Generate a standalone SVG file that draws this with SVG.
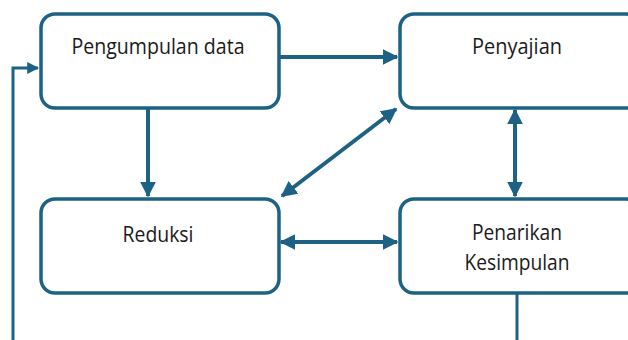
<svg xmlns="http://www.w3.org/2000/svg" width="628" height="340" viewBox="0 0 628 340">
<defs>
<style>
.box{fill:#fff;stroke:#1d6285;stroke-width:3.5}
.lbl{font-family:"Open Sans","Liberation Sans",sans-serif;font-size:22px;fill:#1a1a1a;text-anchor:middle}
.ln{stroke:#1d6285;stroke-width:4;fill:none}
</style>
<marker id="ah" viewBox="0 0 10 10" refX="9" refY="5" markerWidth="4" markerHeight="4" orient="auto-start-reverse" markerUnits="strokeWidth">
<path d="M0,0 L10,5 L0,10 z" fill="#1d6285"/>
</marker>
</defs>
<rect width="628" height="340" fill="#fff"/>
<g id="connectors">
<line class="ln" x1="280" y1="57" x2="397" y2="57" marker-end="url(#ah)"/>
<line class="ln" x1="148" y1="108" x2="148" y2="196" marker-end="url(#ah)"/>
<line class="ln" x1="282" y1="196" x2="396" y2="109" marker-start="url(#ah)" marker-end="url(#ah)"/>
<line class="ln" x1="281" y1="242" x2="397" y2="242" marker-start="url(#ah)" marker-end="url(#ah)"/>
<line class="ln" x1="515" y1="110" x2="515" y2="196" marker-start="url(#ah)" marker-end="url(#ah)"/>
<line class="ln" x1="517" y1="294" x2="517" y2="345" style="stroke-width:3"/>
<polyline class="ln" points="13,345 13,68 38,68" style="stroke-width:3" marker-end="url(#ah)"/>
</g>
<g id="n1"><rect class="box" x="41" y="14" width="238" height="94" rx="14"/><text class="lbl" x="158" y="54" textLength="173" lengthAdjust="spacingAndGlyphs">Pengumpulan data</text></g>
<g id="n2"><rect class="box" x="400" y="14" width="240" height="94" rx="14"/><text class="lbl" x="517" y="54" textLength="90" lengthAdjust="spacingAndGlyphs">Penyajian</text></g>
<g id="n3"><rect class="box" x="41" y="199" width="238" height="94" rx="14"/><text class="lbl" x="158" y="242" textLength="71" lengthAdjust="spacingAndGlyphs">Reduksi</text></g>
<g id="n4"><rect class="box" x="400" y="199" width="240" height="94" rx="14"/><text class="lbl" x="517" y="240" textLength="90" lengthAdjust="spacingAndGlyphs">Penarikan</text><text class="lbl" x="517" y="270" textLength="105" lengthAdjust="spacingAndGlyphs">Kesimpulan</text></g>
</svg>
